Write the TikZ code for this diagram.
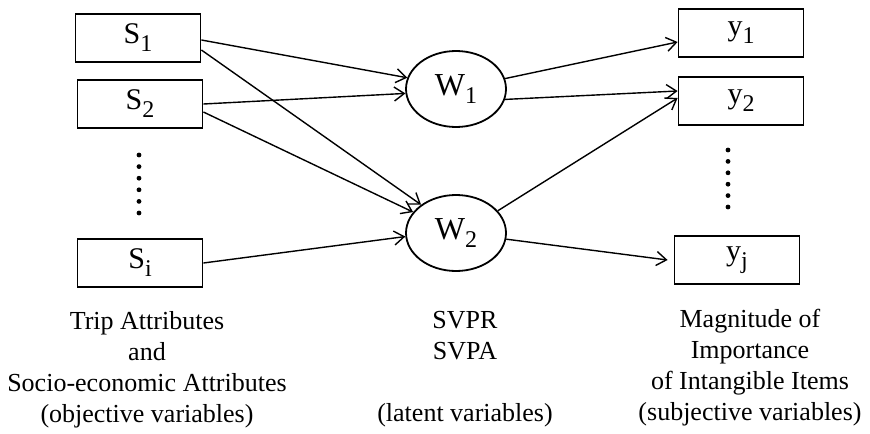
\documentclass[tikz,border=0pt]{standalone}
\usepackage{fontspec}
\setmainfont{Liberation Serif}
\usetikzlibrary{arrows.meta,shapes.geometric}
\newcommand{\ix}[1]{\raisebox{-4pt}{\fontsize{12}{12}\selectfont #1}}

\begin{document}
\begin{tikzpicture}[x=0.5pt,y=-0.5pt,
  var/.style={draw,line width=0.9pt,minimum width=62.5pt,minimum height=24pt,inner sep=0pt,font=\fontsize{15}{18}\selectfont},
  lat/.style={draw,ellipse,line width=0.9pt,minimum width=50pt,minimum height=38pt,inner sep=0pt,font=\fontsize{16}{18}\selectfont},
  link/.style={line width=0.7pt,-{Straight Barb[length=5pt,width=7pt]}},
  note/.style={align=center,anchor=north,inner sep=0pt,font=\fontsize{13}{15.5}\selectfont}]
\useasboundingbox (0,0) rectangle (870,433);
% observed and latent variables
\node[var] (s1) at (138,38) {S\ix{1}};
\node[var] (s2) at (140,104) {S\ix{2}};
\node[var] (si) at (140,263) {S\ix{i}};
\node[lat] (w1) at (456,89) {W\ix{1}};
\node[lat] (w2) at (456,233) {W\ix{2}};
\node[var] (y1) at (741,33) {y\ix{1}};
\node[var] (y2) at (741,101) {y\ix{2}};
\node[var] (yj) at (737,260) {y\ix{j}};
\foreach \k in {0,...,5} {
\fill (139,155+11.6*\k) circle (1.2pt);
\fill (728,150+11.4*\k) circle (1.2pt);
}
% paths
\draw[link] ([yshift=-1pt]s1.east) -- (w1.167);
\draw[link] (s2.east) -- (w1.185);
\draw[link] ([yshift=-6pt]s1.east) -- (w2.141);
\draw[link] ([yshift=-4pt]s2.east) -- (w2.154);
\draw[link] (si.east) -- (w2.184);
\draw[link] (w1.12) -- ([yshift=-4.5pt]y1.west);
\draw[link] (w1.348) -- ([yshift=5pt]y2.west);
\draw[link] (w2.28) -- ([yshift=1.5pt]y2.west);
\draw[link] (w2.353) -- ([xshift=-3pt]yj.west);
% captions
\node[note] (n1) at (147,311) {Trip Attributes\\and\\Socio-economic Attributes\\(objective variables)};
\node[note] (n2) at (465,311) {SVPR\\SVPA\\[15.5pt](latent variables)};
\node[note] (n3) at (750,309) {Magnitude of\\Importance\\of Intangible Items\\(subjective variables)};
\end{tikzpicture}
\end{document}
